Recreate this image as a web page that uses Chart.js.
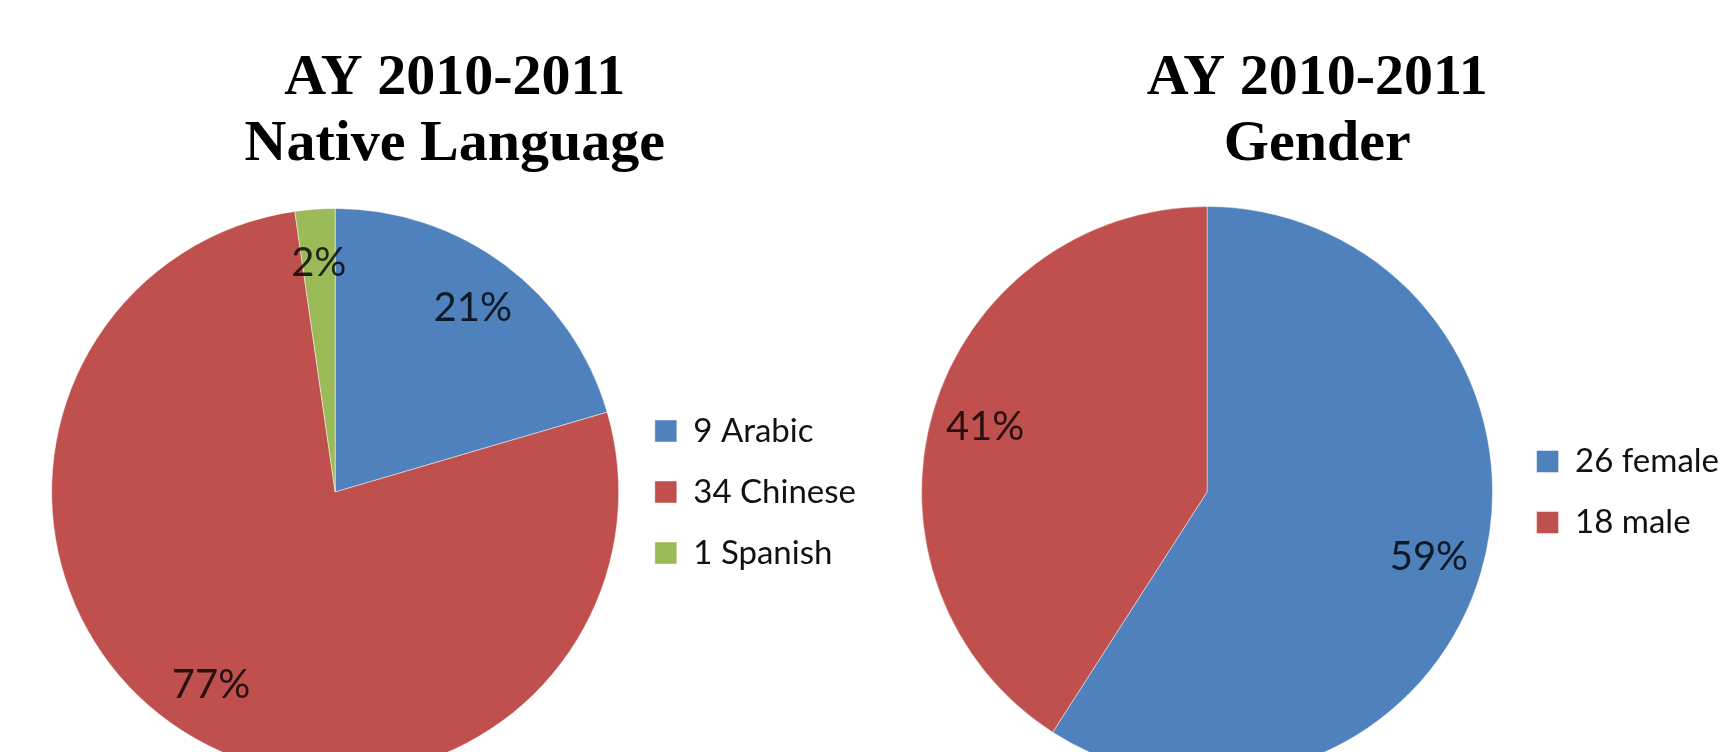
<!DOCTYPE html>
<html>
<head>
<meta charset="utf-8">
<script src="https://cdn.jsdelivr.net/npm/chart.js@4.4.1/dist/chart.umd.min.js"></script>
<style>
  html, body { margin: 0; padding: 0; background: #fff; overflow: hidden; width: 1719px; height: 752px; }
  canvas { position: absolute; top: 0; }
  #langChart { left: 0px; }
  #genderChart { left: 877px; }
</style>
</head>
<body>
<canvas id="langChart" width="906" height="800"></canvas>
<canvas id="genderChart" width="880" height="800"></canvas>
<script>
// datos
const titleYear = 'AY 2010-2011';

const langNames = ['Arabic', 'Chinese', 'Spanish'];
const langCounts = [9, 34, 1];
const langPct = ['21%', '77%', '2%'];

const genderNames = ['female', 'male'];
const genderCounts = [26, 18];
const genderPct = ['59%', '41%'];

const blue = '#4F81BD', red = '#C0504D', green = '#9BBB59';

Chart.defaults.animation = false;
Chart.defaults.devicePixelRatio = 1;

// etiquetas de porcentaje dentro de cada porcion
const pctLabels = {
    id: 'pctLabels',
    afterDatasetsDraw(chart, args, opts) {
        const ctx = chart.ctx;
        const meta = chart.getDatasetMeta(0);
        ctx.save();
        ctx.font = '40px Lato, "Liberation Sans", sans-serif';
        ctx.fillStyle = 'rgba(0,0,0,0.8)';
        ctx.textAlign = 'center';
        ctx.textBaseline = 'middle';
        meta.data.forEach(function (arc, i) {
            const p = arc.getProps(['x', 'y', 'startAngle', 'endAngle', 'outerRadius'], true);
            const mid = (p.startAngle + p.endAngle) / 2;
            const r = p.outerRadius * 0.81;
            ctx.fillText(opts.labels[i], p.x + Math.cos(mid) * r, p.y + Math.sin(mid) * r);
        });
        ctx.restore();
    }
};

function createPie(canvasId, subtitle, names, counts, pct, colors, padding, titleGap) {
    const ctx = document.getElementById(canvasId).getContext('2d');
    return new Chart(ctx, {
        type: 'pie',
        data: {
            labels: names.map((n, i) => counts[i] + ' ' + n),
            datasets: [{
                data: counts,
                backgroundColor: colors,
                borderColor: 'rgba(255,255,255,0.45)',
                borderWidth: 1
            }]
        },
        options: {
            responsive: false,
            layout: { padding: padding },
            plugins: {
                title: {
                    display: true,
                    text: [titleYear, subtitle],
                    color: '#000',
                    font: { family: '"Liberation Serif", "Times New Roman", serif', size: 58, weight: 'bold', lineHeight: 66 / 58 },
                    padding: { top: 46, bottom: titleGap }
                },
                legend: {
                    position: 'right',
                    fullSize: false,
                    labels: {
                        color: '#111',
                        font: { family: 'Lato, "Liberation Sans", sans-serif', size: 33 },
                        boxWidth: 22,
                        boxHeight: 22,
                        padding: 28
                    }
                },
                tooltip: { enabled: false },
                pctLabels: { labels: pct }
            }
        },
        plugins: [pctLabels]
    });
}

const langChart = createPie('langChart', 'Native Language', langNames, langCounts, langPct,
    [blue, red, green], { left: 43.5, right: 40, top: 0, bottom: 24 }, 30);
const genderChart = createPie('genderChart', 'Gender', genderNames, genderCounts, genderPct,
    [blue, red], { left: 28.5, right: 28, top: 0, bottom: 22 }, 28);
</script>
</body>
</html>
